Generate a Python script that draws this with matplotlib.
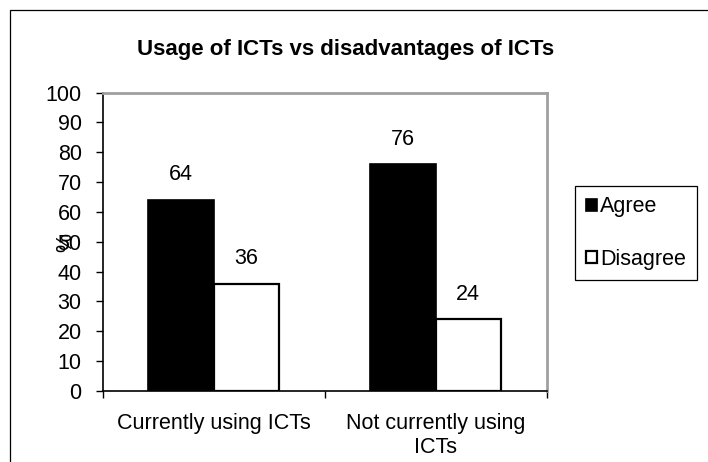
import matplotlib
matplotlib.use("Agg")
import matplotlib.pyplot as plt
from matplotlib.patches import Rectangle
import numpy as np

plt.rcParams['font.family'] = ['Liberation Sans', 'DejaVu Sans']

categories = ["Currently using ICTs", "Not currently using\nICTs"]
agree = [64, 76]
disagree = [36, 24]
series_names = ["Agree", "Disagree"]
title = "Usage of ICTs vs disadvantages of ICTs"
yticks = list(range(0, 101, 10))

FS = 15.5
W, H = 708, 462
fig = plt.figure(figsize=(W / 100, H / 100), dpi=100)

# outer chart border
fig.patches.append(Rectangle((10 / W, -0.1), 1.2, 1 - 10 / H + 0.1, transform=fig.transFigure,
                             fill=False, edgecolor='black', linewidth=0.9, clip_on=False))

ax = fig.add_axes([102.5 / W, 1 - 391 / H, (546.5 - 102.5) / W, (391 - 92.5) / H])

x = np.arange(len(categories))
bw = 0.296
b1 = ax.bar(x - bw / 2, agree, bw, color='black', edgecolor='black', linewidth=1.2, label=series_names[0])
b2 = ax.bar(x + bw / 2, disagree, bw, color='white', edgecolor='black', linewidth=1.6, label=series_names[1])

for bars, vals in ((b1, agree), (b2, disagree)):
    for r, v in zip(bars, vals):
        ax.annotate(str(v), (r.get_x() + r.get_width() / 2, v), xytext=(0, 18),
                    textcoords='offset points', ha='center', va='center', fontsize=FS)

ax.set_xlim(-0.5, 1.5)
ax.set_ylim(0, 100)
ax.set_yticks(yticks)
ax.set_yticklabels([str(t) for t in yticks], fontsize=FS)
ax.set_xticks([-0.5, 0.5, 1.5])
ax.set_xticklabels([])
ax.set_xticks(x, minor=True)
ax.set_xticklabels(categories, minor=True, fontsize=FS, linespacing=1.2)
ax.tick_params(axis='x', which='minor', length=0, pad=16)
ax.tick_params(axis='x', which='major', length=5, width=1, direction='out')
ax.tick_params(axis='y', length=5, width=1, direction='out', pad=10)

ax.spines['left'].set_color('black')
ax.spines['bottom'].set_color('black')
ax.spines['left'].set_linewidth(1.2)
ax.spines['bottom'].set_linewidth(1.2)
for s in ('top', 'right'):
    ax.spines[s].set_color('#a0a0a0')
    ax.spines[s].set_linewidth(2)

fig.text(66 / W, 1 - 242 / H, '%', rotation=90, ha='center', va='center', fontsize=FS)
fig.text(346 / W, 1 - 50 / H, title, ha='center', va='center', fontsize=16, fontweight='bold')

leg = fig.legend(handles=[b1, b2], labels=series_names, loc='center',
                 bbox_to_anchor=(636 / W, 1 - 233 / H), fontsize=FS,
                 handlelength=0.5, handleheight=0.5, handletextpad=0.15,
                 labelspacing=1.45, borderpad=0.5, borderaxespad=0,
                 fancybox=False, framealpha=1, edgecolor='black')
leg.get_frame().set_linewidth(0.9)

fig.savefig("out.png", dpi=100)
